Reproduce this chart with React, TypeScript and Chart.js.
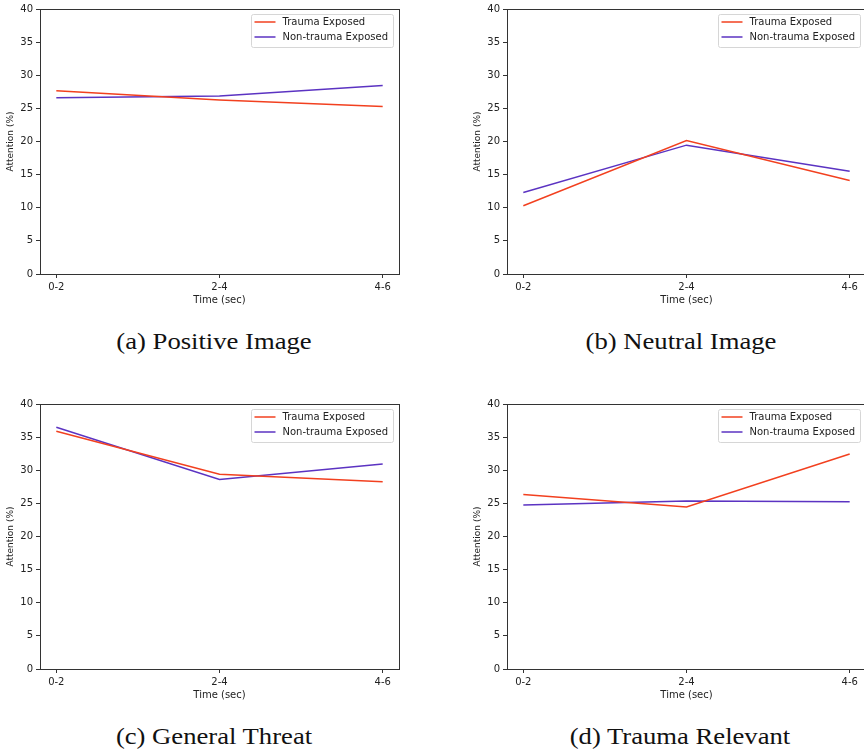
import React, { useEffect, useRef } from "react";
import { Chart, registerables } from "chart.js";

Chart.register(...registerables);

const timeLabels = ["0-2", "2-4", "4-6"];
const seriesNames = ["Trauma Exposed", "Non-trauma Exposed"];
const yTicks = [0, 5, 10, 15, 20, 25, 30, 35, 40];

const positiveTrauma = [27.65, 26.25, 25.3];
const positiveNonTrauma = [26.6, 26.85, 28.45];
const neutralTrauma = [10.3, 20.15, 14.1];
const neutralNonTrauma = [12.3, 19.45, 15.5];
const threatTrauma = [35.9, 29.4, 28.25];
const threatNonTrauma = [36.5, 28.6, 30.95];
const relevantTrauma = [26.35, 24.45, 32.45];
const relevantNonTrauma = [24.75, 25.35, 25.25];

const captions = ["(a) Positive Image", "(b) Neutral Image", "(c) General Threat", "(d) Trauma Relevant"];

const RED = "#f2401f";
const PURPLE = "#5b33c2";
const SPINE = "#333333";
const FONT = "'DejaVu Sans', sans-serif";

const framePlugin = {
  id: "frameAndLegend",
  afterDraw(chart: any) {
    const { ctx, chartArea } = chart;
    const { left, right, top, bottom } = chartArea;
    ctx.save();
    ctx.strokeStyle = SPINE;
    ctx.lineWidth = 1;
    ctx.strokeRect(Math.round(left) + 0.5, Math.round(top) + 0.5, Math.round(right - left), Math.round(bottom - top));
    // legend
    const ds = chart.data.datasets;
    ctx.font = `10px ${FONT}`;
    let maxW = 0;
    ds.forEach((d: any) => { maxW = Math.max(maxW, ctx.measureText(d.label).width); });
    const boxW = 31 + maxW + 5;
    const boxH = 33;
    const bx = right - 6 - boxW;
    const by = top + 5;
    ctx.fillStyle = "rgba(255,255,255,0.8)";
    ctx.strokeStyle = "#d6d6d6";
    ctx.beginPath();
    (ctx as any).roundRect(Math.round(bx) + 0.5, Math.round(by) + 0.5, Math.round(boxW), boxH, 2);
    ctx.fill();
    ctx.stroke();
    ds.forEach((d: any, i: number) => {
      const ly = by + 8 + i * 15;
      ctx.strokeStyle = d.borderColor;
      ctx.lineWidth = 1.5;
      ctx.beginPath();
      ctx.moveTo(bx + 3, ly);
      ctx.lineTo(bx + 24, ly);
      ctx.stroke();
      ctx.fillStyle = "#222";
      ctx.textBaseline = "middle";
      ctx.textAlign = "left";
      ctx.fillText(d.label, bx + 31, ly);
    });
    ctx.restore();
  },
};

function Panel({ trauma, nonTrauma, left, top }: { trauma: number[]; nonTrauma: number[]; left: number; top: number }) {
  const ref = useRef<HTMLCanvasElement>(null);
  useEffect(() => {
    if (!ref.current) return;
    const chart = new Chart(ref.current, {
      type: "line",
      data: {
        datasets: [
          {
            label: seriesNames[0],
            data: trauma.map((v, i) => ({ x: i, y: v })),
            borderColor: RED,
            borderWidth: 1.5,
            pointRadius: 0,
            tension: 0,
          },
          {
            label: seriesNames[1],
            data: nonTrauma.map((v, i) => ({ x: i, y: v })),
            borderColor: PURPLE,
            borderWidth: 1.5,
            pointRadius: 0,
            tension: 0,
          },
        ],
      },
      options: {
        animation: false,
        responsive: false,
        maintainAspectRatio: false,
        layout: { padding: { left: 0, top: 7, right: 33, bottom: 0 } },
        plugins: { legend: { display: false }, tooltip: { enabled: false } },
        scales: {
          x: {
            type: "linear",
            min: -0.1,
            max: 2.1,
            afterBuildTicks: (s: any) => { s.ticks = timeLabels.map((_, i) => ({ value: i })); },
            afterFit: (s: any) => { s.height = 36; },
            ticks: {
              callback: (v: any) => timeLabels[v] ?? "",
              color: "#222",
              font: { family: FONT, size: 10 },
              padding: 3,
              maxRotation: 0,
              autoSkip: false,
            },
            grid: { drawOnChartArea: false, tickLength: 4, color: SPINE },
            border: { color: SPINE },
            title: { display: true, text: "Time (sec)", color: "#222", font: { family: FONT, size: 10 }, padding: { bottom: 4, top: 0 } },
          },
          y: {
            type: "linear",
            min: 0,
            max: 40,
            afterBuildTicks: (s: any) => { s.ticks = yTicks.map((v) => ({ value: v })); },
            afterFit: (s: any) => { s.width = 40; },
            ticks: { color: "#222", font: { family: FONT, size: 10 }, padding: 3 },
            grid: { drawOnChartArea: false, tickLength: 4, color: SPINE },
            border: { color: SPINE },
            title: { display: true, text: "Attention (%)", color: "#222", font: { family: FONT, size: 9 }, padding: { top: 5, bottom: 0 } },
          },
        },
      },
      plugins: [framePlugin],
    } as any);
    return () => chart.destroy();
  }, []);
  return (
    <canvas
      ref={ref}
      width={432}
      height={310}
      style={{ position: "absolute", left, top, width: 432, height: 310 }}
    />
  );
}

function Caption({ text, cx, cy }: { text: string; cx: number; cy: number }) {
  return (
    <div
      style={{
        position: "absolute",
        left: cx - 200,
        top: cy - 14,
        width: 400,
        height: 28,
        lineHeight: "28px",
        textAlign: "center",
        fontFamily: "'Liberation Serif', 'DejaVu Serif', serif",
        fontSize: 24,
        color: "#111",
        whiteSpace: "nowrap",
        transform: "scaleX(1.11)",
        transformOrigin: "center",
      }}
    >
      {text}
    </div>
  );
}

export default function App() {
  return (
    <div style={{ position: "absolute", left: 0, top: 0, width: 864, height: 750, overflow: "hidden", background: "#fff" }}>
      <Panel trauma={positiveTrauma} nonTrauma={positiveNonTrauma} left={0} top={0} />
      <Panel trauma={neutralTrauma} nonTrauma={neutralNonTrauma} left={467} top={0} />
      <Panel trauma={threatTrauma} nonTrauma={threatNonTrauma} left={0} top={394.5} />
      <Panel trauma={relevantTrauma} nonTrauma={relevantNonTrauma} left={467} top={394.5} />
      <Caption text={captions[0]} cx={214} cy={341} />
      <Caption text={captions[1]} cx={681} cy={341} />
      <Caption text={captions[2]} cx={214} cy={736} />
      <Caption text={captions[3]} cx={680} cy={736} />
    </div>
  );
}
